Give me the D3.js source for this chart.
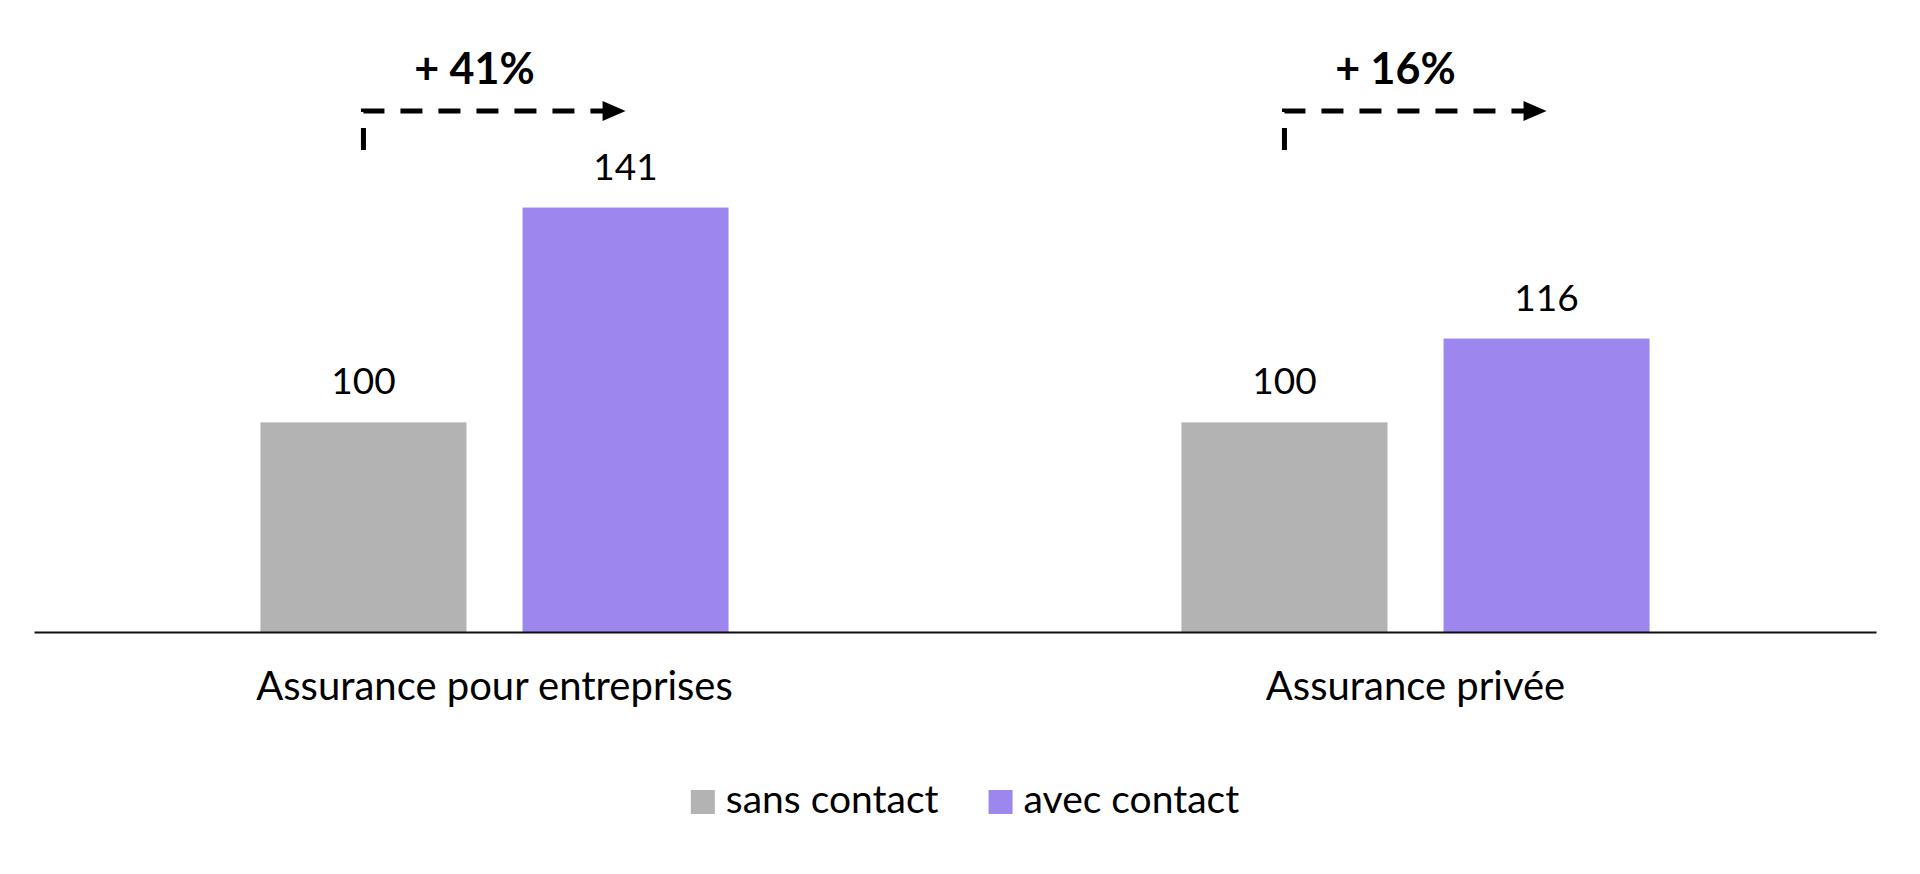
<!DOCTYPE html>
<html>
<head>
<meta charset="utf-8">
<script src="https://cdn.jsdelivr.net/npm/d3@7"></script>
<style>
  body { margin: 0; background: #fff; }
  svg { display: block; }
  text { font-family: Lato, "Open Sans", sans-serif; fill: #000; }
</style>
</head>
<body>
<svg id="chart" width="1920" height="874"></svg>
<script>
// data
var categories = ["Assurance pour entreprises", "Assurance privée"];
var series = ["sans contact", "avec contact"];
var sansContact = [100, 100];
var avecContact = [141, 116];
var colors = ["#b3b3b3", "#9d87ee"];

var rows = categories.map(function(c, i) {
   return { cat: c, values: [sansContact[i], avecContact[i]] };
});

var svg = d3.select("#chart");

var x0 = d3.scaleBand().domain(categories).range([34, 1876]).paddingInner(0).paddingOuter(0);
var x1 = d3.scaleBand().domain(series).range([0, x0.bandwidth()]).paddingInner(0.214).paddingOuter(0.864);
var y = d3.scaleLinear().domain([60, 160]).range([632, 108]);
var color = d3.scaleOrdinal().domain(series).range(colors);

// bars
var grp = svg.selectAll("g.cat").data(rows).enter().append("g")
   .attr("class", "cat")
   .attr("transform", function(d) { return "translate(" + x0(d.cat) + ",0)"; });

grp.selectAll("rect").data(function(d) { return d.values.map(function(v, j) { return { s: series[j], v: v }; }); })
   .enter().append("rect")
   .attr("x", function(d) { return x1(d.s); })
   .attr("width", x1.bandwidth())
   .attr("y", function(d) { return y(d.v); })
   .attr("height", function(d) { return y.range()[0] - y(d.v); })
   .attr("fill", function(d) { return color(d.s); });

grp.selectAll("text.val").data(function(d) { return d.values.map(function(v, j) { return { s: series[j], v: v }; }); })
   .enter().append("text").attr("class", "val")
   .attr("x", function(d) { return x1(d.s) + x1.bandwidth() / 2; })
   .attr("y", function(d) { return y(d.v) - 28; })
   .attr("text-anchor", "middle")
   .style("font-size", "37px")
   .text(function(d) { return d.v; });

// axis (no ticks, just the line and labels)
var xAxis = d3.axisBottom(x0).tickSize(0).tickPadding(0);
var ax = svg.append("g").attr("transform", "translate(0," + y.range()[0] + ")").call(xAxis);
ax.select(".domain").attr("stroke", "#111").attr("stroke-width", 2);
ax.selectAll(".tick text")
   .attr("y", 68).attr("dy", 0)
   .style("font-family", "Lato, sans-serif")
   .style("font-size", "40px")
   .attr("fill", "#000");

// change arrows
var arrows = svg.append("g").attr("class", "arrows");
rows.forEach(function(d) {
   var xs = x0(d.cat) + x1(series[0]) + x1.bandwidth() / 2;
   var xe = x0(d.cat) + x1(series[1]) + x1.bandwidth() / 2;
   var pct = Math.round((d.values[1] / d.values[0] - 1) * 100);
   var ay = 111;
   arrows.append("path")
      .attr("d", "M" + xs + ",150 L" + xs + "," + ay + " L" + (xe - 20) + "," + ay)
      .attr("fill", "none").attr("stroke", "#000").attr("stroke-width", 5)
      .attr("stroke-dasharray", "22,16");
   arrows.append("path")
      .attr("d", "M" + (xe - 23) + "," + (ay - 10) + " L" + xe + "," + ay + " L" + (xe - 23) + "," + (ay + 10) + "Z")
      .attr("fill", "#000");
   arrows.append("text")
      .attr("x", (xs + xe) / 2 - 20).attr("y", 84)
      .attr("text-anchor", "middle")
      .style("font-size", "43px").style("font-weight", "bold")
      .text("+ " + pct + "%");
});

// legend
var legend = svg.append("g").attr("class", "legend");
var lx = 0;
series.forEach(function(s, i) {
   var it = legend.append("g").attr("transform", "translate(" + lx + ",0)");
   it.append("rect").attr("x", 0).attr("y", 790).attr("width", 24).attr("height", 24).attr("fill", color(s));
   var t = it.append("text").attr("x", 35).attr("y", 813).style("font-size", "39px").text(s);
   lx += 35 + t.node().getComputedTextLength() + 50;
});
var lw = lx - 50;
legend.attr("transform", "translate(" + (965 - lw / 2) + ",0)");
</script>
</body>
</html>
